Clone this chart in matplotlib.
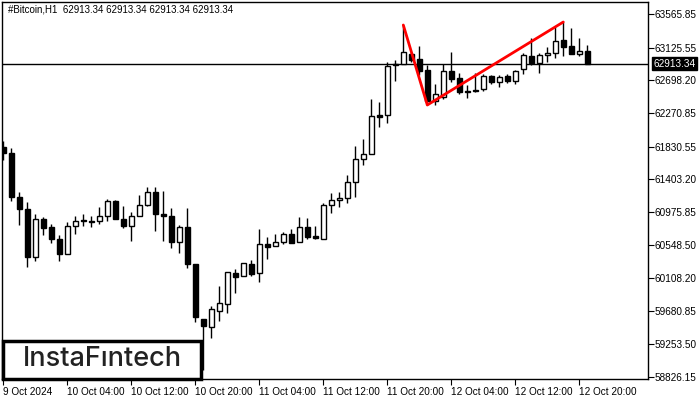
import matplotlib
matplotlib.use("Agg")
import matplotlib.pyplot as plt
import matplotlib.transforms as mtransforms
from matplotlib.patches import Rectangle

plt.rcParams['font.family'] = ['Liberation Sans', 'DejaVu Sans']

symbol_title = "#Bitcoin,H1  62913.34 62913.34 62913.34 62913.34"
last_price = 62913.34

opens = [61827, 61748, 61173, 61016, 60389, 60886, 60781, 60624, 60428, 60794,
         60872, 60859, 60859, 60925, 61121, 60886, 60794, 60925, 61069, 61239,
         60951, 60925, 60585, 60781, 60297, 59578, 59473, 59683, 59774, 60179,
         60140, 60297, 60179, 60559, 60533, 60585, 60689, 60585, 60781, 60663,
         60624, 61069, 61134, 61160, 61369, 61670, 61735, 62245, 62245, 62899,
         62912, 63043, 62978, 62834, 62428, 62481, 62821, 62729, 62559, 62572,
         62585, 62755, 62677, 62755, 62690, 62847, 63017, 62925, 63030, 63056,
         63226, 63147, 63043, 63082]
highs = [61905, 61814, 61239, 61108, 60951, 60912, 60820, 60676, 60846, 60925,
         60951, 60925, 61042, 61147, 61134, 61056, 60977, 61199, 61304, 61304,
         61252, 61029, 60807, 61029, 60297, 59578, 59748, 60010, 60193, 60232,
         60310, 60349, 60755, 60650, 60689, 60716, 60755, 60912, 60899, 60794,
         61095, 61225, 61239, 61461, 61840, 61932, 62455, 62415, 62938, 62964,
         63422, 63069, 63147, 62899, 62651, 62912, 63069, 62794, 62638, 62794,
         62781, 62768, 62768, 62781, 62834, 63056, 63252, 63056, 63134, 63396,
         63461, 63383, 63252, 63160]
lows = [61657, 61121, 60807, 60258, 60336, 60676, 60572, 60336, 60428, 60689,
        60794, 60781, 60820, 60859, 60886, 60768, 60598, 60925, 61056, 60729,
        60598, 60506, 60441, 60245, 59539, 58911, 59330, 59552, 59656, 59918,
        60140, 60140, 60062, 60363, 60533, 60559, 60572, 60585, 60624, 60624,
        60624, 60964, 61042, 61095, 61173, 61592, 61735, 62088, 62141, 62690,
        62912, 62938, 62768, 62376, 62376, 62455, 62677, 62520, 62468, 62546,
        62559, 62651, 62611, 62664, 62651, 62781, 62899, 62794, 62938, 62991,
        63017, 63043, 63017, 62912]
closes = [61748, 61173, 61016, 60389, 60886, 60768, 60624, 60428, 60794, 60859,
          60859, 60846, 60925, 61121, 60886, 60794, 60925, 61069, 61239, 60951,
          60925, 60585, 60781, 60297, 59604, 59487, 59709, 59787, 60193, 60127,
          60310, 60166, 60559, 60519, 60585, 60689, 60572, 60781, 60650, 60637,
          61069, 61134, 61160, 61369, 61670, 61735, 62232, 62219, 62886, 62912,
          63069, 62964, 62821, 62428, 62520, 62821, 62716, 62546, 62546, 62559,
          62755, 62677, 62742, 62690, 62821, 63030, 62925, 63030, 63056, 63213,
          63134, 63043, 63082, 62913.34]

x_tick_bars = [0, 8, 16, 24, 32, 40, 48, 56, 64, 72]
x_tick_labels = ["9 Oct 2024", "10 Oct 04:00", "10 Oct 12:00", "10 Oct 20:00",
                 "11 Oct 04:00", "11 Oct 12:00", "11 Oct 20:00", "12 Oct 04:00",
                 "12 Oct 12:00", "12 Oct 20:00"]
y_ticks = [63565.85, 63125.55, 62698.20, 62270.85, 61830.55, 61403.20,
           60975.85, 60548.50, 60108.20, 59680.85, 59253.50, 58826.15]

# pattern (double top) pivot bars
pattern_bars = [50, 53, 70]
pattern_kind = ["high", "low", "high"]

W, H = 700, 400
fig = plt.figure(figsize=(W / 100, H / 100), dpi=100)
ax_left, ax_right, ax_top, ax_bottom = 2, 648, 2, 379
ax = fig.add_axes([ax_left / W, 1 - ax_bottom / H, (ax_right - ax_left) / W,
                   (ax_bottom - ax_top) / H])

n = len(opens)
xs = list(range(n))
ax.vlines(xs, lows, highs, color='black', linewidth=1, zorder=2)
for i in xs:
    o, c = opens[i], closes[i]
    bottom = min(o, c)
    h = max(abs(c - o), 8)
    face = 'white' if c >= o else 'black'
    ax.add_patch(Rectangle((i - 0.31, bottom), 0.62, h, facecolor=face,
                           edgecolor='black', linewidth=1, zorder=3))

# current price line
ax.axhline(last_price, color='black', linewidth=1, zorder=1)

# pattern lines
px = pattern_bars
py = [highs[b] if k == "high" else lows[b] for b, k in zip(pattern_bars, pattern_kind)]
ax.plot(px, py, color='#ff0000', linewidth=2, zorder=4, solid_capstyle='round')

# axes limits (pixel mapping: bar i at x = 3.3 + 8 i)
ax.set_xlim((ax_left - 3.3) / 8, (ax_right - 3.3) / 8)
ax.set_ylim(58793.5, 63722.75)

ax.set_xticks(x_tick_bars)
ax.set_xticklabels(x_tick_labels, ha='left', fontsize=7.2)
ax.tick_params(axis='x', direction='out', length=4, pad=2, width=0.8)
ax.yaxis.tick_right()
ax.set_yticks(y_ticks)
ax.set_yticklabels([f"{v:.2f}" for v in y_ticks], fontsize=7.2)
ax.tick_params(axis='y', direction='out', length=4, pad=1, width=0.8)
for s in ax.spines.values():
    s.set_linewidth(1)
    s.set_color('black')

# price box on the right axis
trans = mtransforms.blended_transform_factory(ax.transAxes, ax.transData)
ax.text(1.0 + 5 / (ax_right - ax_left), last_price, f"{last_price:.2f}",
        transform=trans, ha='left', va='center', fontsize=7.2, color='white',
        bbox=dict(boxstyle='square,pad=0.15', facecolor='black', edgecolor='black'),
        zorder=10, clip_on=False)

# header
fig.text(8 / W, 1 - 10 / H, symbol_title, fontsize=7, ha='left', va='center', color='black')

# logo box
logo = Rectangle((3 / W, 1 - 379 / H), (201 - 3) / W, (379 - 341) / H,
                 transform=fig.transFigure, facecolor='white', edgecolor='black',
                 linewidth=2.5, zorder=20)
fig.patches.append(logo)
fig.text(102 / W, 1 - 358.5 / H, "InstaFıntech", fontsize=19.5, ha='center', va='center',
         color='#222222', family=['Inter', 'DejaVu Sans'], fontweight='medium', zorder=21)

fig.savefig("out.png", dpi=100, facecolor='white')
